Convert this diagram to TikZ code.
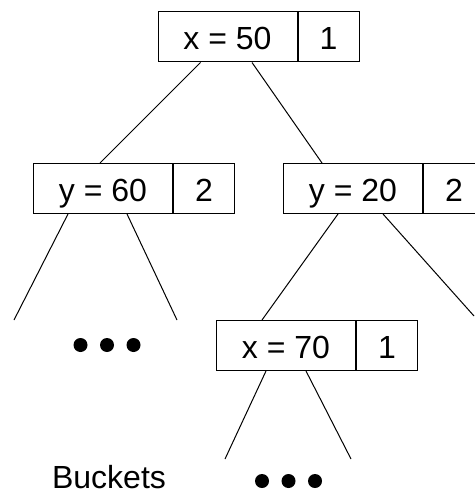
\documentclass[tikz,border=0pt]{standalone}
\usepackage{fontspec}
\setmainfont{Liberation Sans}
\usetikzlibrary{positioning}
\tikzstyle{keybox} = [rectangle, draw, inner sep=0pt, minimum width=139pt, minimum height=50pt,
text height=26pt, text depth=0pt, font=\fontsize{32}{38}\selectfont]
\tikzstyle{cntbox} = [keybox, minimum width=61pt]
\tikzstyle{edge} = [line width=1pt]

\begin{document}
\begin{tikzpicture}[x=1pt, y=-1pt, node distance=0pt, line width=1pt]
  \useasboundingbox (0,0) rectangle (474,494);

  % tree nodes: key part and count part
  \node (x50) [keybox] at (227.5,37) {x = 50};
  \node (c50) [cntbox, right=of x50] {1};
  \node (y60) [keybox] at (103,188.5) {y = 60};
  \node (c60) [cntbox, right=of y60] {2};
  \node (y20) [keybox] at (353,188.5) {y = 20};
  \node (c20) [cntbox, right=of y20] {2};
  \node (x70) [keybox] at (286,345.5) {x = 70};
  \node (c70) [cntbox, right=of x70] {1};

  % free ends of the branches
  \coordinate (l1) at (14,320);
  \coordinate (l2) at (177,320);
  \coordinate (r2) at (474,316);
  \coordinate (b1) at (225,459);
  \coordinate (b2) at (351,459);
  \coordinate (dotsl) at (107,345);
  \coordinate (dotsb) at (288.5,481);

  \draw[edge] ([xshift=-27pt]x50.south) -- ([xshift=-3pt]y60.north);
  \draw[edge] ([xshift=24.5pt]x50.south) -- ([xshift=-31pt]y20.north);
  \draw[edge] ([xshift=-35pt]y60.south) -- (l1);
  \draw[edge] ([xshift=24pt]y60.south) -- (l2);
  \draw[edge] ([xshift=-15pt]y20.south) -- ([xshift=-24pt]x70.north);
  \draw[edge] ([xshift=30pt]y20.south) -- (r2);
  \draw[edge] ([xshift=-20pt]x70.south) -- (b1);
  \draw[edge] ([xshift=20pt]x70.south) -- (b2);

  \foreach \i in {-1,0,1} {
    \fill ([xshift=\i*26.5pt]dotsl) circle (7pt);
    \fill ([xshift=\i*26.5pt]dotsb) circle (7pt);
  }

  \node (buckets) [anchor=base, inner sep=0pt, font=\fontsize{32}{38}\selectfont] at (109,488) {Buckets};
\end{tikzpicture}
\end{document}
